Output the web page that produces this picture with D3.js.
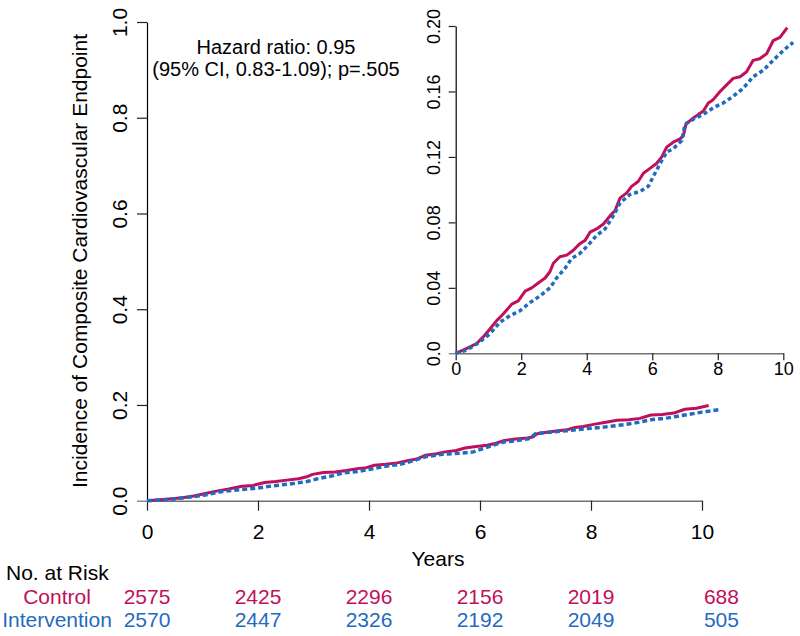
<!DOCTYPE html>
<html>
<head>
<meta charset="utf-8">
<script src="https://cdn.jsdelivr.net/npm/d3@7"></script>
<style>
  html, body { margin: 0; padding: 0; background: #fff; }
  svg { display: block; font-family: "Liberation Sans", Arial, sans-serif; }
</style>
</head>
<body>
<svg id="chart" width="800" height="636"></svg>
<script>
// ---------------- data ----------------
const controlTimes = [0, 0.34, 0.64, 0.84, 1.05, 1.25, 1.45, 1.71, 1.91, 2.12, 2.32, 2.52, 2.73, 2.88, 2.98, 3.18, 3.39, 3.59, 3.79, 3.95, 4.10, 4.30, 4.51, 4.71, 4.86, 5.02, 5.22, 5.37, 5.57, 5.73, 5.93, 6.13, 6.29, 6.44, 6.64, 6.85, 6.95, 7.03, 7.20, 7.41, 7.56, 7.71, 7.86, 8.07, 8.27, 8.47, 8.68, 8.88, 9.08, 9.28, 9.49, 9.69, 9.90, 10.12];
const controlValues = [0, 0.003, 0.006, 0.010, 0.015, 0.020, 0.024, 0.030, 0.032, 0.038, 0.040, 0.043, 0.046, 0.050, 0.055, 0.059, 0.060, 0.063, 0.067, 0.069, 0.074, 0.076, 0.079, 0.084, 0.087, 0.095, 0.098, 0.102, 0.105, 0.110, 0.113, 0.116, 0.120, 0.126, 0.129, 0.131, 0.133, 0.140, 0.143, 0.146, 0.148, 0.153, 0.155, 0.160, 0.164, 0.168, 0.169, 0.172, 0.179, 0.180, 0.183, 0.191, 0.193, 0.199];
const interventionTimes = [0, 0.34, 0.74, 1.05, 1.35, 1.66, 1.96, 2.27, 2.57, 2.88, 3.08, 3.34, 3.54, 3.79, 4.04, 4.30, 4.56, 4.81, 5.02, 5.32, 5.63, 5.88, 6.03, 6.24, 6.44, 6.64, 6.90, 7.00, 7.25, 7.56, 7.86, 8.17, 8.47, 8.78, 9.08, 9.39, 9.69, 10.00, 10.30];
const interventionValues = [0, 0.002, 0.007, 0.012, 0.019, 0.023, 0.026, 0.031, 0.035, 0.040, 0.046, 0.052, 0.058, 0.061, 0.066, 0.072, 0.076, 0.084, 0.092, 0.097, 0.099, 0.102, 0.108, 0.116, 0.123, 0.125, 0.130, 0.140, 0.143, 0.146, 0.150, 0.153, 0.157, 0.162, 0.169, 0.173, 0.179, 0.185, 0.190];

const xTicks = [0, 2, 4, 6, 8, 10];
const mainYTicks = [0, 0.2, 0.4, 0.6, 0.8, 1.0];
const mainYLabels = ["0.0", "0.2", "0.4", "0.6", "0.8", "1.0"];
const insetYTicks = [0, 0.04, 0.08, 0.12, 0.16, 0.20];
const insetYLabels = ["0.0", "0.04", "0.08", "0.12", "0.16", "0.20"];

const riskGroups = ["Control", "Intervention"];
const riskTimes = [0, 2, 4, 6, 8, 10.35];
const riskControl = [2575, 2425, 2296, 2156, 2019, 688];
const riskIntervention = [2570, 2447, 2326, 2192, 2049, 505];

const hazardLines = ["Hazard ratio: 0.95", "(95% CI, 0.83-1.09); p=.505"];
const yTitle = "Incidence of Composite Cardiovascular Endpoint";
const xTitle = "Years";

// ---------------- styles ----------------
const RED = "#C0105C";
const BLUE = "#1F6BBF";
const svg = d3.select("#chart");

const controlData = controlTimes.map((t, i) => ({ t, v: controlValues[i] }));
const interventionData = interventionTimes.map((t, i) => ({ t, v: interventionValues[i] }));

function drawPanel(opts) {
  const { x, y, yTicks, yLabels, tickLen, font, yLabelX, xLabelBaseline } = opts;
  const g = svg.append("g");

  // x axis
  const xa = g.append("g")
    .attr("transform", `translate(0,${y(0)})`)
    .call(d3.axisBottom(x).tickValues(xTicks).tickSize(tickLen).tickSizeOuter(0).tickFormat(d3.format("d")));
  xa.select(".domain").attr("stroke", "#707070").attr("stroke-width", 1.5);
  xa.selectAll(".tick line").attr("stroke", "#222").attr("stroke-width", 1.2);
  xa.selectAll(".tick text")
    .attr("font-size", font).attr("fill", "#000")
    .attr("font-family", "Liberation Sans, Arial, sans-serif")
    .attr("dy", null).attr("y", xLabelBaseline - y(0));

  // y axis
  const ya = g.append("g")
    .attr("transform", `translate(${x(0)},0)`)
    .call(d3.axisLeft(y).tickValues(yTicks).tickSize(tickLen).tickSizeOuter(0).tickFormat((d, i) => yLabels[i]));
  ya.select(".domain").attr("stroke", "#000").attr("stroke-width", 1.2);
  ya.selectAll(".tick line").attr("stroke", (d) => d === 0 ? "#707070" : "#222").attr("stroke-width", 1.2);
  ya.selectAll(".tick text")
    .attr("font-size", font).attr("fill", "#000")
    .attr("font-family", "Liberation Sans, Arial, sans-serif")
    .attr("text-anchor", "middle")
    .attr("x", null).attr("dy", null)
    .attr("transform", (d) => `translate(${yLabelX - x(0)},0) rotate(-90)`);

  // lines
  const line = d3.line().x(d => x(d.t)).y(d => y(d.v)).curve(d3.curveLinear);
  g.append("path").datum(controlData)
    .attr("fill", "none").attr("stroke", RED).attr("stroke-width", opts.lw)
    .attr("stroke-linejoin", "round").attr("d", line);
  g.append("path").datum(interventionData)
    .attr("fill", "none").attr("stroke", BLUE).attr("stroke-width", opts.lw + 0.5)
    .attr("stroke-dasharray", opts.dash).attr("d", line);
}

// main panel
const xMain = d3.scaleLinear().domain([0, 10]).range([147, 702]);
const yMain = d3.scaleLinear().domain([0, 1]).range([500.7, 22]);
drawPanel({ x: xMain, y: yMain, yTicks: mainYTicks, yLabels: mainYLabels, tickLen: 10, font: 21,
  yLabelX: 127, xLabelBaseline: 539, lw: 3, dash: "5,3" });

// inset panel
const xIn = d3.scaleLinear().domain([0, 10]).range([455.7, 783.3]);
const yIn = d3.scaleLinear().domain([0, 0.2]).range([353.3, 26]);
drawPanel({ x: xIn, y: yIn, yTicks: insetYTicks, yLabels: insetYLabels, tickLen: 7, font: 18,
  yLabelX: 440, xLabelBaseline: 375, lw: 3, dash: "4,3" });

// titles
svg.append("text")
  .attr("transform", "translate(87,261) rotate(-90)")
  .attr("text-anchor", "middle").attr("font-size", 21).attr("fill", "#000")
  .text(yTitle);
svg.append("text")
  .attr("x", 438).attr("y", 566).attr("text-anchor", "middle")
  .attr("font-size", 21).attr("fill", "#000").text(xTitle);

// hazard annotation
svg.selectAll("text.hz").data(hazardLines).enter().append("text")
  .attr("class", "hz")
  .attr("x", 276).attr("y", (d, i) => 54 + i * 22)
  .attr("text-anchor", "middle").attr("font-size", 20).attr("fill", "#000")
  .text(d => d);

// risk table
svg.append("text").attr("x", 6).attr("y", 580).attr("font-size", 21).attr("fill", "#000").text("No. at Risk");
const riskRows = [
  { name: riskGroups[0], vals: riskControl, color: RED, y: 604 },
  { name: riskGroups[1], vals: riskIntervention, color: BLUE, y: 627 }
];
riskRows.forEach(r => {
  svg.append("text").attr("x", 57).attr("y", r.y).attr("text-anchor", "middle")
    .attr("font-size", 21).attr("fill", r.color).text(r.name);
  svg.selectAll(null).data(r.vals).enter().append("text")
    .attr("x", (d, i) => xMain(riskTimes[i])).attr("y", r.y)
    .attr("text-anchor", "middle").attr("font-size", 21).attr("fill", r.color)
    .text(d => d);
});
</script>
</body>
</html>
